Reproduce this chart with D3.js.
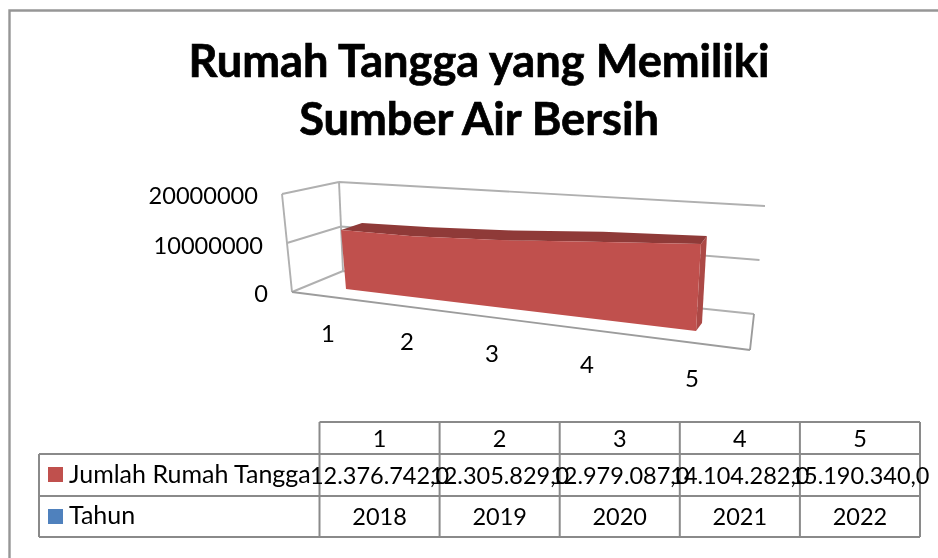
<!DOCTYPE html>
<html><head><meta charset="utf-8">
<script src="https://cdn.jsdelivr.net/npm/d3@7/dist/d3.min.js"></script>
<style>html,body{margin:0;padding:0;background:#fff}svg{display:block;filter:blur(0.5px)}text{font-family:Lato,"Open Sans",sans-serif;fill:#000}</style>
</head><body><svg id="c" width="938" height="558"></svg>
<script>
const categories = [1, 2, 3, 4, 5];
const years = [2018, 2019, 2020, 2021, 2022];
const households = [12376742, 12305829, 12979087, 14104282, 15190340];
const householdLabels = ["12.376.742,0", "12.305.829,0", "12.979.087,0", "14.104.282,0", "15.190.340,0"];
const yTicks = [0, 10000000, 20000000];
const titleLines = ["Rumah Tangga yang Memiliki", "Sumber Air Bersih"];
const seriesNames = ["Jumlah Rumah Tangga", "Tahun"];

const svg = d3.select("#c");
const GRID = "#b0b0b0", TABLE = "#8a8a8a";

svg.append("path").attr("d", "M9.5,558V10.5H938").attr("fill", "none").attr("stroke", "#969696").attr("stroke-width", 2.4);

svg.selectAll("text.title").data(titleLines).join("text").attr("class", "title")
  .attr("x", 479).attr("y", (d, i) => 77 + i * 58).attr("text-anchor", "middle")
  .attr("font-size", 45.2).attr("font-weight", 700)
  .style("stroke", "#000").style("stroke-width", 0.7).text(d => d);

// plot box: the value axis maps to a fraction of the wall height
const v = d3.scaleLinear().domain([0, 20000000]).range([0, 1]);
const floorFront = [[292, 292], [750, 350]], floorBack = [[343, 271], [754, 314]];
const topFront = [[282, 194]], topBack = [[339, 182], [765, 206]];
const lerp = (a, b, t) => [a[0] + (b[0] - a[0]) * t, a[1] + (b[1] - a[1]) * t];
const line = (a, b) => `M${a[0]},${a[1]}L${b[0]},${b[1]}`;
const wallBack = val => [lerp(floorBack[0], topBack[0], v(val)), lerp(floorBack[1], topBack[1], v(val))];
const wallLeft = val => lerp(floorFront[0], topFront[0], v(val));

const frame = svg.append("g").attr("fill", "none").attr("stroke", GRID).attr("stroke-width", 1.9);
yTicks.forEach(t => {
  const b = wallBack(t);
  frame.append("path").attr("d", line(wallLeft(t), b[0]) + line(b[0], b[1]));
});
frame.append("path").attr("d", line(wallLeft(0), wallLeft(20000000)));
frame.append("path").attr("d", line(floorBack[0], topBack[0]));
frame.append("path").attr("d", line(floorFront[0], floorFront[1]) + line(floorFront[1], floorBack[1])).attr("stroke", "#9c9c9c");

const yLabelX = [268, 263, 258];
const yLabelY = [294, 246, 196];
svg.selectAll("text.yt").data(yTicks).join("text").attr("class", "yt")
  .attr("x", (d, i) => yLabelX[i]).attr("y", (d, i) => yLabelY[i] + 8).attr("text-anchor", "end")
  .attr("font-size", 23.6).text(d => d);

// area ribbon: categories spread with perspective along the front of the ribbon
const u = d3.scaleLinear().domain(categories).range([0, 0.2, 0.44, 0.7, 1]);
const front0 = [[346, 289], [696, 331]], front1 = [[338, 193.6], [702.5, 216.4]];
const depthX = d3.scaleLinear().domain([0, 1]).range([21, 6]);
const depthY = d3.scaleLinear().domain(categories).range([-7, -9, -9.5, -10, -8]);
const P = (cat, val) => {
  const t = u(cat);
  return lerp(lerp(front0[0], front0[1], t), lerp(front1[0], front1[1], t), v(val));
};
const B = (cat, val) => { const p = P(cat, val); return [p[0] + depthX(u(cat)), p[1] + depthY(cat)]; };
const poly = pts => d3.line()(pts) + "Z";
const topPts = categories.map((c, i) => P(c, households[i]));
const topBackPts = categories.map((c, i) => B(c, households[i]));
const n = categories.length - 1;

svg.append("path").attr("fill", "#ac4946").attr("d", poly([P(categories[n], 0), B(categories[n], 0), topBackPts[n], topPts[n]]));
svg.append("path").attr("fill", "#8f3a38").attr("d", poly(topPts.concat(topBackPts.slice().reverse())));
svg.append("path").attr("fill", "#c0504d").attr("d", poly([P(categories[0], 0)].concat(topPts, [P(categories[n], 0)])));

// category labels under the floor
const labelX = [328, 407, 492, 587, 692], labelY = [342, 350, 362, 373, 387];
svg.selectAll("text.xt").data(categories).join("text").attr("class", "xt")
  .attr("x", (d, i) => labelX[i]).attr("y", (d, i) => labelY[i]).attr("text-anchor", "middle")
  .attr("font-size", 24).text(d => d);

// data table
const colX = d3.scaleBand().domain(categories).range([319.5, 920]);
const rowY = [422, 454, 496, 537], legendLeft = 39;
const tbl = svg.append("g").attr("fill", "none").attr("stroke", TABLE).attr("stroke-width", 2);
tbl.append("path").attr("d", line([colX.range()[0], rowY[0]], [920, rowY[0]]));
rowY.slice(1).forEach(y => tbl.append("path").attr("d", line([legendLeft, y], [920, y])));
tbl.append("path").attr("d", line([legendLeft, rowY[1]], [legendLeft, rowY[3]]));
categories.forEach(c => tbl.append("path").attr("d", line([colX(c), rowY[0]], [colX(c), rowY[3]])));
tbl.append("path").attr("d", line([920, rowY[0]], [920, rowY[3]]));

const rows = [categories, householdLabels, years], rowBase = [447, 484, 525];
rows.forEach((r, ri) => {
  svg.selectAll("text.r" + ri).data(r).join("text").attr("class", "r" + ri)
    .attr("x", (d, i) => colX(categories[i]) + colX.bandwidth() / 2).attr("y", rowBase[ri])
    .attr("text-anchor", "middle").attr("font-size", 23.5).text(d => d);
});
const swatch = ["#c0504d", "#4f81bd"], swatchY = [467, 509], nameBase = [483, 524];
seriesNames.forEach((s, i) => {
  svg.append("rect").attr("x", 48).attr("y", swatchY[i]).attr("width", 15).attr("height", 15).attr("fill", swatch[i]);
  svg.append("text").attr("x", 69).attr("y", nameBase[i]).attr("font-size", 25).text(s);
});
</script></body></html>
